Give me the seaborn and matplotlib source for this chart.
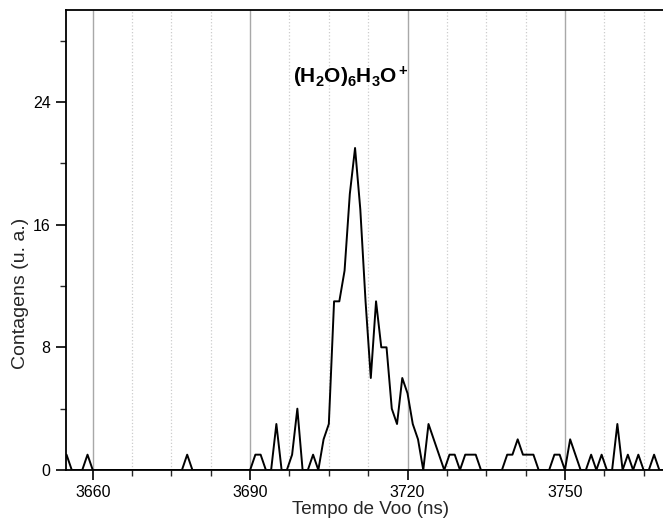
import numpy as np
import pandas as pd
import matplotlib
matplotlib.use("Agg")
import matplotlib.pyplot as plt
from matplotlib.ticker import MultipleLocator
import seaborn as sns

# ---- data (1 ns bins) ----
t_start = 3654
counts = [
    0, 1, 0, 0, 0, 1, 0, 0, 0, 0,          # 3654-3663
    0, 0, 0, 0, 0, 0, 0, 0, 0, 0,          # 3664-3673
    0, 0, 0, 0, 1, 0, 0, 0, 0, 0,          # 3674-3683
    0, 0, 0, 0, 0, 0, 0, 1, 1, 0,          # 3684-3693
    0, 3, 0, 0, 1, 4, 0, 0, 1, 0,          # 3694-3703
    2, 3, 11, 11, 13, 18, 21, 17, 11, 6,   # 3704-3713
    11, 8, 8, 4, 3, 6, 5, 3, 2, 0,         # 3714-3723
    3, 2, 1, 0, 1, 1, 0, 1, 1, 1,          # 3724-3733
    0, 0, 0, 0, 0, 1, 1, 2, 1, 1,          # 3734-3743
    1, 0, 0, 0, 1, 1, 0, 2, 1, 0,          # 3744-3753
    0, 1, 0, 1, 0, 0, 3, 0, 1, 0,          # 3754-3763
    1, 0, 0, 1, 0, 0,                      # 3764-3769
]
times = list(range(t_start, t_start + len(counts)))
x_ticks = [3660, 3690, 3720, 3750]
y_ticks = [0, 8, 16, 24]
df = pd.DataFrame({"Tempo": times, "Contagens": counts})

sns.set_style("ticks")
plt.rcParams["font.family"] = ["Liberation Sans", "DejaVu Sans"]
plt.rcParams["mathtext.fontset"] = "custom"
plt.rcParams["mathtext.rm"] = "Liberation Sans"
plt.rcParams["mathtext.bf"] = "Liberation Sans:bold"
plt.rcParams["mathtext.it"] = "Liberation Sans:italic"

fig = plt.figure(figsize=(6.63, 5.26), dpi=100)
ax = fig.add_axes([66 / 663, 56 / 526, 1 - 66 / 663, 460 / 526])

sns.lineplot(data=df, x="Tempo", y="Contagens", ax=ax, color="black",
             linewidth=1.4, zorder=3)

ax.set_xlim(3654.9, 3768.7)
ax.set_ylim(0, 30)
ax.set_xticks(x_ticks)
ax.set_yticks(y_ticks)
ax.xaxis.set_minor_locator(MultipleLocator(7.5))
ax.yaxis.set_minor_locator(MultipleLocator(4))

ax.grid(False)
ax.grid(True, axis="x", which="major", color="#a8a8a8", linewidth=1.0,
        linestyle="-", zorder=0)
ax.grid(True, axis="x", which="minor", color="#cccccc", linewidth=0.9,
        linestyle=":", zorder=0)

for s in ["left", "bottom", "top"]:
    ax.spines[s].set_linewidth(1.3)
    ax.spines[s].set_color("black")
ax.spines["right"].set_visible(False)

ax.tick_params(which="major", direction="out", length=7, width=1.2,
               labelsize=11.5, colors="black", top=False, right=False, pad=4)
ax.tick_params(which="minor", direction="out", length=4, width=1.0,
               top=False, right=False)

ax.set_xlabel("Tempo de Voo (ns)", fontsize=13.5)
ax.set_ylabel("Contagens (u. a.)", fontsize=14)
ax.xaxis.set_label_coords((371 - 66) / 597, -0.068)
ax.yaxis.set_label_coords(-0.062, (470 - 293) / 460)

ax.text(3709.2, 25.6, r"$\mathbf{(H_2O)_6H_3O^+}$", fontsize=15,
        ha="center", va="center", color="black")

fig.savefig("out.png", dpi=100)
